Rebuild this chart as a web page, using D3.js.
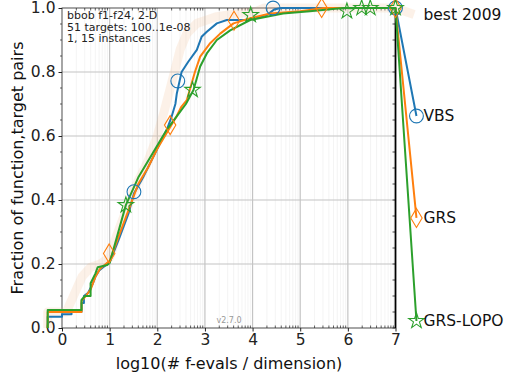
<!DOCTYPE html>
<html>
<head>
<meta charset="utf-8">
<script src="https://cdn.jsdelivr.net/npm/d3@7"></script>
<style>
  body { margin: 0; background: #fff; }
  text { font-family: "DejaVu Sans", sans-serif; }
</style>
</head>
<body>
<div id="main"></div>
<script>
const ctx = {
    w: 505,
    h: 379,
    left: 62,
    right: 395.5,
    top: 8,
    bottom: 328,
};

// ECDF curves, [log10(evals/dim), fraction]
const best2009 = [[-0.3,0],[-0.3,0.05],[0.1,0.05],[0.15,0.07],[0.3,0.12],[0.42,0.16],[0.6,0.19],[0.8,0.2],[1.0,0.22],
  [1.15,0.29],[1.3,0.35],[1.5,0.43],[1.8,0.52],[2.0,0.6],[2.15,0.68],[2.3,0.765],[2.48,0.87],[2.62,0.92],
  [2.83,0.952],[3.04,0.9625],[3.25,0.973],[3.7,0.983],[4.09,0.99],[4.25,1.0],[7,1.0]];
const vbs = [[-0.3,0],[-0.3,0.035],[0.0,0.035],[0.0,0.043],[0.2,0.043],[0.2,0.051],[0.41,0.051],[0.41,0.078],
  [0.46,0.078],[0.46,0.1],[0.55,0.11],[0.65,0.14],[0.7,0.16],[0.78,0.18],[0.95,0.2],[1.0,0.205],[1.2,0.28],
  [1.4,0.36],[1.51,0.42],[1.7,0.47],[1.9,0.53],[2.0,0.56],[2.2,0.62],[2.3,0.66],[2.38,0.7],[2.41,0.733],
  [2.51,0.8],[2.65,0.832],[2.83,0.869],[2.93,0.91],[3.04,0.926],[3.25,0.952],[3.46,0.9625],[3.88,0.9625],
  [4.3,0.978],[4.45,0.995],[4.6,1.0],[7,1.0]];
const grs = [[-0.3,0],[-0.3,0.05],[0.41,0.05],[0.41,0.085],[0.5,0.1],[0.6,0.12],[0.7,0.16],[0.8,0.185],[1.0,0.21],
  [1.2,0.29],[1.4,0.37],[1.6,0.45],[1.8,0.5],[2.0,0.56],[2.2,0.61],[2.4,0.66],[2.5,0.69],[2.62,0.7125],
  [2.79,0.8],[2.9,0.848],[3.11,0.89],[3.32,0.92],[3.6,0.952],[3.95,0.968],[4.37,0.983],[5.0,0.99],[5.5,1.0],[7,1.0]];
const grsLopo = [[-0.3,0],[-0.3,0.056],[0.41,0.056],[0.41,0.0875],[0.48,0.1],[0.6,0.1],[0.6,0.14],[0.7,0.17],
  [0.75,0.19],[0.95,0.197],[1.0,0.203],[1.34,0.384],[1.6,0.47],[1.8,0.52],[2.0,0.57],[2.2,0.62],[2.4,0.66],
  [2.6,0.7],[2.76,0.744],[2.9,0.817],[3.04,0.858],[3.25,0.9],[3.53,0.93],[3.95,0.9625],[4.64,0.983],
  [5.2,0.99],[5.9,1.0],[7,1.0]];

// markers along the curves
const vbsMarks = [[1.51,0.426],[2.43,0.772],[4.43,1.0],[7,1.0]];
const grsMarks = [[0.99,0.233],[2.27,0.634],[3.61,0.96],[5.45,1.0],[7,1.0]];
const grsLopoMarks = [[1.34,0.384],[2.74,0.744],[3.96,0.978],[5.98,0.99],[6.29,1.0],[6.47,1.0],[7,1.0]];

// right-hand labels: name, label fraction
const labelNames = ["best 2009", "VBS", "GRS", "GRS-LOPO"];
const labelFracs = [0.98, 0.6625, 0.344, 0.022];
const labelX = 7.44;

const xTicks = [0, 1, 2, 3, 4, 5, 6, 7];
const yTicks = [0, 0.2, 0.4, 0.6, 0.8, 1.0];
const infoLines = ["bbob f1-f24, 2-D", "51 targets: 100..1e-08", "1, 15 instances"];

const svg = d3.select("#main").append("svg")
    .attr("width", ctx.w).attr("height", ctx.h);

const x = d3.scaleLinear().domain([0, 7]).range([ctx.left, ctx.right]);
const y = d3.scaleLinear().domain([0, 1]).range([ctx.bottom, ctx.top]);

// minor log positions
let minorX = [];
for (let d = 0; d < 7; d++) {
    for (let k = 2; k <= 9; k++) minorX.push(d + Math.log10(k));
}
const minorY = d3.range(0, 21).map(i => i * 0.05).filter(v => Math.round(v * 100) % 20 != 0);

// grid
svg.append("g").selectAll("line").data(minorX).enter().append("line")
   .attr("x1", d => x(d)).attr("x2", d => x(d))
   .attr("y1", ctx.top).attr("y2", ctx.bottom)
   .style("stroke", "#ececec").style("stroke-width", 0.6);
svg.append("g").selectAll("line").data(xTicks.slice(1, -1)).enter().append("line")
   .attr("x1", d => x(d)).attr("x2", d => x(d))
   .attr("y1", ctx.top).attr("y2", ctx.bottom)
   .style("stroke", "#c4c4c4").style("stroke-width", 1.2);
svg.append("g").selectAll("line").data(yTicks.slice(1, -1)).enter().append("line")
   .attr("x1", ctx.left).attr("x2", ctx.right)
   .attr("y1", d => y(d)).attr("y2", d => y(d))
   .style("stroke", "#c4c4c4").style("stroke-width", 1.2);

// axes
const xAxis = svg.append("g")
    .attr("transform", `translate(0,${ctx.bottom})`)
    .call(d3.axisBottom(x).tickValues(xTicks).tickFormat(d3.format("d")).tickSize(3.5).tickPadding(2));
const yAxis = svg.append("g")
    .attr("transform", `translate(${ctx.left},0)`)
    .call(d3.axisLeft(y).tickValues(yTicks).tickFormat(d3.format(".1f")).tickSize(3.5).tickPadding(3));
[xAxis, yAxis].forEach(a => {
    a.select(".domain").remove();
    a.selectAll("text").style("font-size", "15.5px").style("fill", "#222")
     .style("font-family", "DejaVu Sans");
    a.selectAll(".tick line").style("stroke", "#222");
});

// minor ticks
svg.append("g").selectAll("line").data(minorX).enter().append("line")
   .attr("x1", d => x(d)).attr("x2", d => x(d))
   .attr("y1", ctx.bottom).attr("y2", ctx.bottom - 2.5)
   .style("stroke", "#222").style("stroke-width", 0.7);
svg.append("g").selectAll("line").data(minorX).enter().append("line")
   .attr("x1", d => x(d)).attr("x2", d => x(d))
   .attr("y1", ctx.top).attr("y2", ctx.top + 2.5)
   .style("stroke", "#222").style("stroke-width", 0.7);
svg.append("g").selectAll("line").data(minorY).enter().append("line")
   .attr("x1", ctx.left - 2).attr("x2", ctx.left)
   .attr("y1", d => y(d)).attr("y2", d => y(d))
   .style("stroke", "#222").style("stroke-width", 0.7);
svg.append("g").selectAll("line").data(minorY.concat(yTicks)).enter().append("line")
   .attr("x1", ctx.right - 3).attr("x2", ctx.right)
   .attr("y1", d => y(d)).attr("y2", d => y(d))
   .style("stroke", "#222").style("stroke-width", 0.8);

// spines
svg.append("rect")
   .attr("x", ctx.left).attr("y", ctx.top)
   .attr("width", ctx.right - ctx.left).attr("height", ctx.bottom - ctx.top)
   .style("fill", "none").style("stroke", "#222").style("stroke-width", 0.8);
svg.append("line")
   .attr("x1", ctx.right).attr("x2", ctx.right).attr("y1", ctx.top).attr("y2", ctx.bottom)
   .style("stroke", "#000").style("stroke-width", 1.8);

const line = d3.line().x(d => x(d[0])).y(d => y(d[1]));

// best 2009 band
svg.append("path")
   .attr("d", line(best2009.concat([[labelX - 0.05, labelFracs[0]]])))
   .style("fill", "none").style("stroke", "rgb(242,190,150)").style("stroke-opacity", 0.22)
   .style("stroke-width", 9).style("stroke-linejoin", "round");

const series = [
    {pts: vbs, marks: vbsMarks, color: "#1f77b4", sym: "circle", lab: labelFracs[1]},
    {pts: grs, marks: grsMarks, color: "#ff7f0e", sym: "diamond", lab: labelFracs[2]},
    {pts: grsLopo, marks: grsLopoMarks, color: "#2ca02c", sym: "star", lab: labelFracs[3]},
];

function markerPath(sym) {
    if (sym == "circle") return d3.symbol(d3.symbolCircle, 150)();
    if (sym == "star") return d3.symbol(d3.symbolStar, 75)();
    return "M0,-9.5L5.7,0L0,9.5L-5.7,0Z";
}

series.forEach(s => {
    svg.append("path")
       .attr("d", line(s.pts.concat([[labelX, s.lab]])))
       .style("fill", "none").style("stroke", s.color).style("stroke-width", 2)
       .style("stroke-linejoin", "round");
});
series.forEach(s => {
    svg.append("g").selectAll("path").data(s.marks.concat([[labelX, s.lab]])).enter().append("path")
       .attr("transform", d => `translate(${x(d[0])},${y(d[1])})`)
       .attr("d", markerPath(s.sym))
       .style("fill", "none").style("stroke", s.color).style("stroke-width", 1.1);
});

// right labels
svg.append("g").selectAll("text").data(labelNames).enter().append("text")
   .attr("x", x(labelX) + 7)
   .attr("y", (d, i) => y(labelFracs[i]))
   .attr("dy", "0.35em")
   .style("font-size", "15.5px").style("fill", "#111")
   .text(d => d);

// info text
svg.append("g").selectAll("text").data(infoLines).enter().append("text")
   .attr("x", 67).attr("y", (d, i) => 19 + i * 11.5)
   .style("font-size", "11px").style("fill", "#222")
   .text(d => d);

svg.append("text")
   .attr("x", 229).attr("y", 323)
   .attr("text-anchor", "middle")
   .style("font-size", "8px").style("fill", "#999")
   .text("v2.7.0");

// axis titles
svg.append("text")
   .attr("x", 229).attr("y", 369)
   .attr("text-anchor", "middle")
   .style("font-size", "16px").style("fill", "#111")
   .text("log10(# f-evals / dimension)");
svg.append("text")
   .attr("transform", `translate(23,168) rotate(-90)`)
   .attr("text-anchor", "middle")
   .style("font-size", "16px").style("fill", "#111")
   .text("Fraction of function,target pairs");
</script>
</body>
</html>
